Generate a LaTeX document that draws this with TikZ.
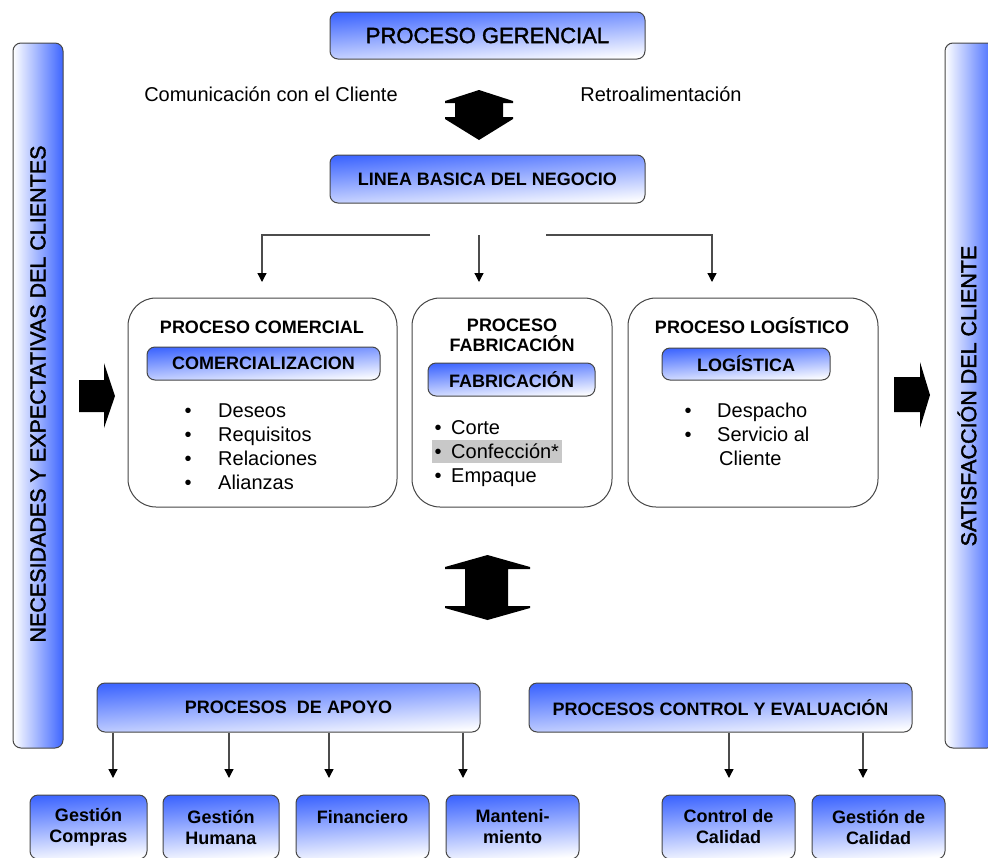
\documentclass[tikz,border=0pt]{standalone}
\usepackage{fontspec}
\setmainfont{Liberation Sans}
\newfontfamily\semib[FakeBold=1.8]{Liberation Sans}
\usetikzlibrary{arrows.meta}
\definecolor{boxblue}{RGB}{62,102,255}
\definecolor{hlgray}{RGB}{200,200,200}
\definecolor{edge}{RGB}{70,70,70}
\begin{document}
\begin{tikzpicture}[x=1pt,y=-1pt,
  bluebox/.style={draw=edge, line width=1pt, rounded corners=8pt,
    top color=boxblue, bottom color=white, shading angle=4,
    align=center, inner sep=0pt,
    font=\bfseries\fontsize{18}{21}\selectfont},
  bigbox/.style={draw=edge, line width=1pt, rounded corners=28pt, fill=white, inner sep=0pt},
  vbar/.style={draw=edge, line width=1pt, rounded corners=8pt,
    left color=white, right color=boxblue, inner sep=0pt},
  bartxt/.style={font=\semib\fontsize{21.5}{24}\selectfont, inner sep=0pt},
  plain/.style={font=\fontsize{20}{24}\selectfont, inner sep=0pt},
  titletxt/.style={font=\bfseries\fontsize{18}{20}\selectfont, inner sep=0pt, align=center},
  conn/.style={draw=black!70, line width=1.3pt, -{Triangle[width=9pt,length=9pt,color=black]}},
  blk/.style={fill=black}
]
\useasboundingbox (0,0) rectangle (988,857);
\clip (0,0) rectangle (988,857);

% side bars
\node[vbar, minimum width=50pt, minimum height=705pt] (lbar) at (38,395.5) {};
\node[bartxt, rotate=90] (lbart) at (38,394) {NECESIDADES Y EXPECTATIVAS DEL CLIENTES};
\node[vbar, minimum width=50pt, minimum height=705pt] (rbar) at (970,395.5) {};
\node[bartxt, rotate=90] (rbart) at (967,396) {SATISFACCIÓN DEL CLIENTE};

% top part
\node[bluebox, minimum width=315pt, minimum height=47pt,
      font=\semib\fontsize{22}{26}\selectfont] (ger) at (487.5,35.5) {PROCESO GERENCIAL};
\node[plain, anchor=base] (com) at (271,101) {Comunicación con el Cliente};
\node[plain, anchor=base] (retro) at (661,101) {Retroalimentación};
\fill[blk] (479,90) -- (513,101) -- (513,103) -- (503,103) -- (503,117) -- (513,117) -- (513,119)
  -- (479,140) -- (445,119) -- (445,117) -- (455,117) -- (455,103) -- (445,103) -- (445,101) -- cycle;
\node[bluebox, minimum width=315pt, minimum height=48pt] (lbn) at (487.5,179) {LINEA BASICA DEL NEGOCIO};

% branch connectors
\coordinate (t1) at (430,235); \coordinate (t1c) at (262,235); \coordinate (t1e) at (262,282);
\coordinate (t2) at (479,235); \coordinate (t2e) at (479,282);
\coordinate (t3) at (546,235); \coordinate (t3c) at (712,235); \coordinate (t3e) at (712,282);
\draw[conn] (t1) -- (t1c) -- (t1e);
\draw[conn] (t2) -- (t2e);
\draw[conn] (t3) -- (t3c) -- (t3e);

% process boxes
\node[bigbox, minimum width=269pt, minimum height=209pt] (pc) at (262.5,402.5) {};
\node[bigbox, minimum width=200pt, minimum height=209pt] (pf) at (512,402.5) {};
\node[bigbox, minimum width=250pt, minimum height=209pt] (pl) at (753,402.5) {};

\node[titletxt, anchor=base] (pct) at (262,333) {PROCESO COMERCIAL};
\node[titletxt] (pft) at (512,335) {PROCESO\\FABRICACIÓN};
\node[titletxt, anchor=base] (plt) at (752,333) {PROCESO LOGÍSTICO};

\node[bluebox, minimum width=233pt, minimum height=33pt] (comz) at (263.5,363.5) {COMERCIALIZACION};
\node[bluebox, minimum width=167pt, minimum height=33pt] (fab) at (511.5,379.5) {FABRICACIÓN};
\node[bluebox, minimum width=168pt, minimum height=32pt] (log) at (746,364) {LOGÍSTICA};

\node[plain, anchor=base west] (lst1) at (184.5,417)
  {\begin{tabular}[t]{@{}l@{\hspace{26.5pt}}l@{}}•&Deseos\\•&Requisitos\\•&Relaciones\\•&Alianzas\end{tabular}};
\fill[hlgray] (432,440) rectangle (562,463);
\node[plain, anchor=base west] (lst2) at (434.5,434)
  {\begin{tabular}[t]{@{}l@{\hspace{9.5pt}}l@{}}•&Corte\\•&Confección*\\•&Empaque\end{tabular}};
\node[plain, anchor=base west] (lst3) at (684.5,417)
  {\begin{tabular}[t]{@{}l@{\hspace{25.5pt}}l@{}}•&Despacho\\•&Servicio al\\&\hspace{2pt}Cliente\end{tabular}};

% block arrows
\fill[blk] (79,380) -- (104,380) -- (104,363) -- (115,396) -- (104,428) -- (104,412) -- (79,412) -- cycle;
\fill[blk] (894,377) -- (920,377) -- (920,362) -- (930,395) -- (920,428) -- (920,412) -- (894,412) -- cycle;
\fill[blk] (487.5,555) -- (530,567) -- (530,569) -- (508,569) -- (508,606) -- (530,606) -- (530,608)
  -- (487.5,620) -- (445,608) -- (445,606) -- (465,606) -- (465,569) -- (445,569) -- (445,567) -- cycle;

% support and control
\node[bluebox, minimum width=383pt, minimum height=49pt] (apoyo) at (288.5,707.5) {PROCESOS\ \ DE APOYO};
\node[bluebox, minimum width=383pt, minimum height=49pt] (ctrl) at (720.5,707.5) {PROCESOS CONTROL Y EVALUACIÓN};

\node[bluebox, minimum width=117pt, minimum height=64pt] (gcomp) at (88.5,827) {Gestión\\Compras};
\node[bluebox, minimum width=116pt, minimum height=64pt] (ghum) at (221,827) {Gestión\\Humana};
\node[bluebox, minimum width=133pt, minimum height=64pt] (fin) at (362.5,827) {Financiero\\~};
\node[bluebox, minimum width=133pt, minimum height=64pt] (mant) at (512.5,827) {Manteni-\\miento};
\node[bluebox, minimum width=133pt, minimum height=64pt] (ccal) at (728.5,827) {Control de\\Calidad};
\node[bluebox, minimum width=133pt, minimum height=64pt] (gcal) at (878.5,827) {Gestión de\\Calidad};

\coordinate (a1) at (113,778); \coordinate (a2) at (229,778);
\coordinate (a3) at (329,778); \coordinate (a4) at (463,778);
\coordinate (c1) at (729,778); \coordinate (c2) at (863,778);
\draw[conn] (apoyo.south -| a1) -- (a1);
\draw[conn] (apoyo.south -| a2) -- (a2);
\draw[conn] (apoyo.south -| a3) -- (a3);
\draw[conn] (apoyo.south -| a4) -- (a4);
\draw[conn] (ctrl.south -| c1) -- (c1);
\draw[conn] (ctrl.south -| c2) -- (c2);
\end{tikzpicture}
\end{document}
